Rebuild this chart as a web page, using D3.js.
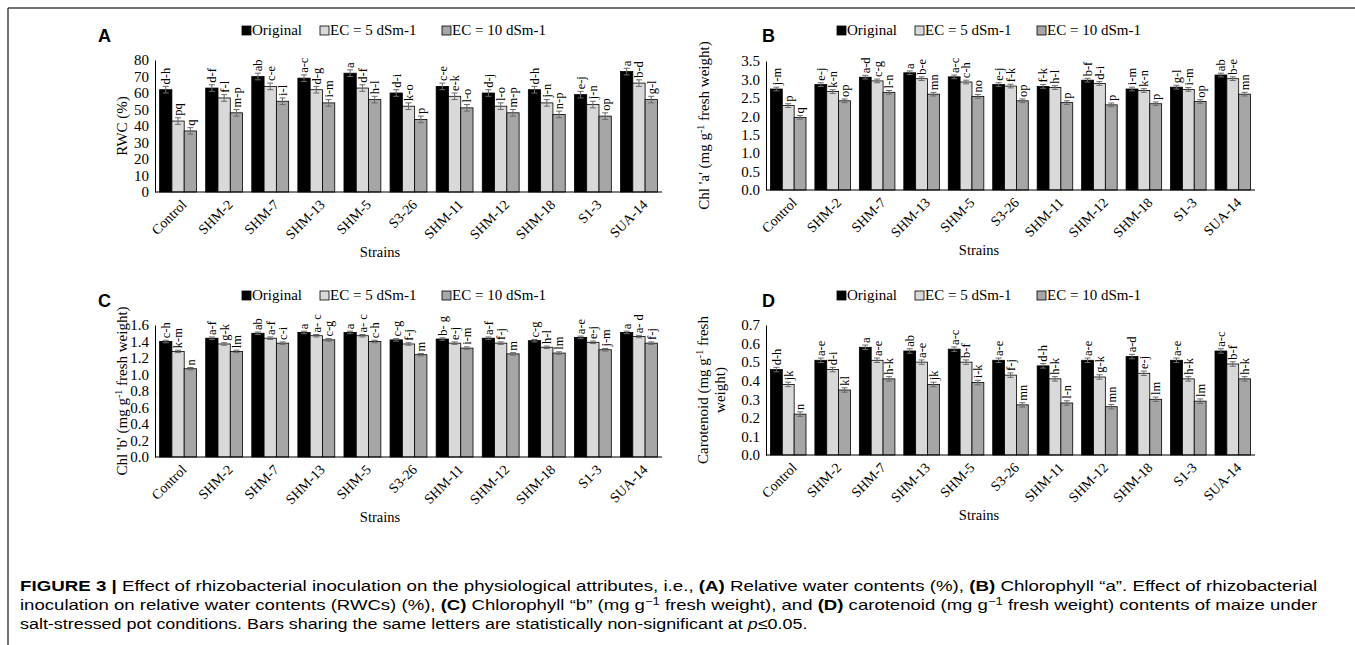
<!DOCTYPE html>
<html>
<head>
<meta charset="utf-8">
<script src="https://cdn.jsdelivr.net/npm/d3@7"></script>
<style>
  body { margin: 0; background: #fff; }
  text { font-family: "Liberation Serif", "Times New Roman", serif; fill: #000; }
  .sans { font-family: "Liberation Sans", Arial, sans-serif; }
</style>
</head>
<body>
<svg id="fig" width="1355" height="645"></svg>
<script>
// ---- data ----
const strains = ["Control", "SHM-2", "SHM-7", "SHM-13", "SHM-5", "S3-26", "SHM-11", "SHM-12", "SHM-18", "S1-3", "SUA-14"];
const seriesNames = ["Original", "EC = 5 dSm-1", "EC = 10 dSm-1"];
const seriesColors = ["#000000", "#d9d9d9", "#a6a6a6"];

// A: relative water content (%)
const rwcOriginal = [62, 63, 70, 69, 72, 60, 64, 60, 62, 59, 73];
const rwcEC5 = [43, 57, 64, 62, 63, 52, 58, 52, 54, 53, 66];
const rwcEC10 = [37, 48, 55, 54, 56, 44, 51, 48, 47, 46, 56];
const rwcLetters = [["d-h","pq","q"],["d-f","f-l","m-p"],["ab","c-e","i-l"],["a-c","d-g","i-m"],["a","d-f","h-l"],
  ["d-i","k-o","p"],["c-e","e-k","l-o"],["d-j","l-o","m-p"],["d-h","j-n","n-p"],["e-j","j-n","op"],["a","b-d","g-l"]];
const rwcErr = 2;

// B: chlorophyll a
const chlaOriginal = [2.74, 2.86, 3.06, 3.18, 3.07, 2.86, 2.81, 2.98, 2.74, 2.79, 3.12];
const chlaEC5 = [2.29, 2.67, 2.96, 3.02, 2.93, 2.82, 2.78, 2.89, 2.70, 2.73, 3.02];
const chlaEC10 = [1.97, 2.42, 2.65, 2.60, 2.54, 2.42, 2.37, 2.31, 2.34, 2.40, 2.60];
const chlaLetters = [["j-m","p","q"],["e-j","k-n","op"],["a-d","c-g","l-n"],["a","b-e","mn"],["a-c","c-h","no"],
  ["e-j","f-k","op"],["f-k","h-l","p"],["b-f","d-i","p"],["i-m","k-n","p"],["g-l","i-m","op"],["ab","b-e","mn"]];
const chlaErr = 0.05;

// C: chlorophyll b
const chlbOriginal = [1.40, 1.44, 1.50, 1.51, 1.51, 1.42, 1.43, 1.44, 1.41, 1.45, 1.51];
const chlbEC5 = [1.28, 1.37, 1.44, 1.47, 1.47, 1.37, 1.38, 1.38, 1.33, 1.39, 1.46];
const chlbEC10 = [1.07, 1.28, 1.38, 1.42, 1.40, 1.24, 1.32, 1.25, 1.26, 1.30, 1.38];
const chlbLetters = [["c-h","k-m","n"],["a-f","g-k","lm"],["ab","a-f","c-i"],["a","a- c","c-g"],["a","a- c","c-h"],
  ["c-g","f-j","m"],["b- g","e-j","i-m"],["a-f","f-j","m"],["c-g","h-l","lm"],["a-e","e-j","j-m"],["a","a- d","f-j"]];
const chlbErr = 0.015;

// D: carotenoid
const carOriginal = [0.46, 0.51, 0.58, 0.56, 0.57, 0.51, 0.48, 0.51, 0.53, 0.51, 0.56];
const carEC5 = [0.38, 0.46, 0.51, 0.50, 0.50, 0.43, 0.41, 0.42, 0.44, 0.41, 0.49];
const carEC10 = [0.22, 0.35, 0.41, 0.38, 0.39, 0.27, 0.28, 0.26, 0.30, 0.29, 0.41];
const carLetters = [["d-h","jk","n"],["a-e","d-i","kl"],["a","a-e","h-k"],["ab","a-e","jk"],["a-c","b-f","i-k"],
  ["a-e","f-j","mn"],["d-h","h-k","l-n"],["a-e","g-k","mn"],["a-d","e-j","lm"],["a-e","h-k","lm"],["a-c","b-f","h-k"]];
const carErr = 0.012;

const svg = d3.select("#fig");

// frame
svg.append("line").attr("x1", 8).attr("x2", 1355).attr("y1", 8).attr("y2", 8).attr("stroke", "#444").attr("stroke-width", 1.5);
svg.append("line").attr("x1", 8).attr("x2", 8).attr("y1", 8).attr("y2", 645).attr("stroke", "#444").attr("stroke-width", 1.5);

function drawPanel(p) {
  const g = svg.append("g");
  const series = [p.s1, p.s2, p.s3];

  const x = d3.scaleBand().domain(strains).range([p.left, p.right]).paddingInner(0.2).paddingOuter(0.1);
  const xs = d3.scaleBand().domain([0, 1, 2]).range([0, x.bandwidth()]);
  const y = d3.scaleLinear().domain([0, p.max]).range([p.bottom, p.top]);

  // panel letter
  g.append("text").attr("class", "sans").attr("x", p.letterX).attr("y", p.legendY + 7)
    .style("font-size", "18px").style("font-weight", "bold").text(p.letter);

  // legend
  const lg = g.append("g").attr("transform", `translate(${p.legendX},${p.legendY})`);
  const legendOffsets = [0, 78, 200];
  seriesNames.forEach((name, i) => {
    lg.append("rect").attr("x", legendOffsets[i]).attr("y", -9).attr("width", 9).attr("height", 9)
      .attr("fill", seriesColors[i]).attr("stroke", "#000").attr("stroke-width", 0.8);
    lg.append("text").attr("x", legendOffsets[i] + 10).attr("y", 0).style("font-size", "15px").text(name);
  });

  // y axis
  const ticks = d3.range(0, p.max + p.step / 2, p.step);
  const ya = g.append("g").attr("transform", `translate(${p.left},0)`)
    .call(d3.axisLeft(y).tickValues(ticks).tickSize(0).tickPadding(6).tickFormat(d3.format(p.fmt)));
  ya.select(".domain").attr("stroke", "#000").attr("stroke-width", 1);
  ya.selectAll("text").style("font-size", "15px").style("font-family", "'Liberation Serif', serif");

  // y title
  const tt = g.append("text").attr("transform", `translate(${p.titleX},${(p.top + p.bottom) / 2}) rotate(-90)`)
    .attr("text-anchor", "middle").style("font-size", "15px");
  p.title(tt);

  // bars
  strains.forEach((s, i) => {
    series.forEach((vals, k) => {
      const v = vals[i];
      const bx = x(s) + xs(k);
      const bw = xs.bandwidth();
      g.append("rect").attr("x", bx).attr("y", y(v)).attr("width", bw).attr("height", p.bottom - y(v))
        .attr("fill", seriesColors[k]).attr("stroke", "#000").attr("stroke-width", 0.8);
      const cx = bx + bw / 2;
      const e1 = y(v + p.err), e0 = y(v - p.err);
      const ec = "#6a6a6a";
      g.append("line").attr("x1", cx).attr("x2", cx).attr("y1", e1).attr("y2", e0).attr("stroke", ec);
      g.append("line").attr("x1", cx - 3).attr("x2", cx + 3).attr("y1", e1).attr("y2", e1).attr("stroke", ec);
      g.append("line").attr("x1", cx - 3).attr("x2", cx + 3).attr("y1", e0).attr("y2", e0).attr("stroke", ec);
      g.append("text").attr("transform", `translate(${cx},${e1 - 2}) rotate(-90)`)
        .attr("dy", "0.35em").style("font-size", "12.5px").text(p.letters[i][k]);
    });
  });

  // x axis
  g.append("line").attr("x1", p.left).attr("x2", p.right).attr("y1", p.bottom).attr("y2", p.bottom)
    .attr("stroke", "#000").attr("stroke-width", 1);
  strains.forEach(s => {
    const cx = x(s) + x.bandwidth() / 2;
    g.append("text").attr("transform", `translate(${cx + 6},${p.bottom + 10}) rotate(-45)`)
      .attr("text-anchor", "end").attr("dy", "0.35em").style("font-size", "14px").text(s);
  });
  g.append("text").attr("x", p.strainsX).attr("y", p.bottom + 65).attr("text-anchor", "middle")
    .style("font-size", "14.5px").text("Strains");
}

function gramTitle(before, after) {
  return t => {
    t.append("tspan").text(before + " (mg g");
    t.append("tspan").attr("dy", -5).style("font-size", "10px").text("-1");
    t.append("tspan").attr("dy", 5).text(after);
  };
}

drawPanel({
  letter: "A", letterX: 98, legendX: 242, legendY: 35,
  left: 155, right: 662, top: 60, bottom: 192, max: 80, step: 10, fmt: "d",
  titleX: 127, strainsX: 380,
  s1: rwcOriginal, s2: rwcEC5, s3: rwcEC10, letters: rwcLetters, err: rwcErr,
  title: t => t.text("RWC (%)")
});

drawPanel({
  letter: "B", letterX: 762, legendX: 837, legendY: 35,
  left: 766, right: 1255, top: 61, bottom: 190, max: 3.5, step: 0.5, fmt: ".1f",
  titleX: 709, strainsX: 979,
  s1: chlaOriginal, s2: chlaEC5, s3: chlaEC10, letters: chlaLetters, err: chlaErr,
  title: gramTitle("Chl 'a'", " fresh weight)")
});

drawPanel({
  letter: "C", letterX: 98, legendX: 242, legendY: 300,
  left: 155, right: 662, top: 325, bottom: 457, max: 1.6, step: 0.2, fmt: ".1f",
  titleX: 127, strainsX: 380,
  s1: chlbOriginal, s2: chlbEC5, s3: chlbEC10, letters: chlbLetters, err: chlbErr,
  title: gramTitle("Chl 'b'", " fresh weight)")
});

drawPanel({
  letter: "D", letterX: 762, legendX: 837, legendY: 300,
  left: 766, right: 1255, top: 325, bottom: 455, max: 0.7, step: 0.1, fmt: ".1f",
  titleX: 708, strainsX: 979,
  s1: carOriginal, s2: carEC5, s3: carEC10, letters: carLetters, err: carErr,
  title: t => {
    t.append("tspan").attr("x", 0).text("Carotenoid (mg g");
    t.append("tspan").attr("dy", -5).style("font-size", "10px").text("-1");
    t.append("tspan").attr("dy", 5).text(" fresh");
    t.append("tspan").attr("x", 0).attr("dy", 17).text("weight)");
  }
});

// caption: each line is stretched horizontally to the width it takes in the figure
const capLines = [
  [["FIGURE 3 |", "b"], [" Effect of rhizobacterial inoculation  on the physiological attributes, i.e., "], ["(A)", "b"],
   [" Relative water contents (%), "], ["(B)", "b"], [" Chlorophyll \u201ca\u201d. Effect of rhizobacterial"]],
  [["inoculation on relative water contents (RWCs) (%), "], ["(C)", "b"], [" Chlorophyll \u201cb\u201d (mg g"], ["\u22121", "sup"],
   [" fresh weight), and "], ["(D)", "b"], [" carotenoid (mg g"], ["\u22121", "sup"], [" fresh weight) contents of maize under"]],
  [["salt-stressed pot conditions. Bars sharing the same letters are statistically non-significant at "], ["p", "i"], ["\u22640.05."]]
];
const capY = [591, 610, 629];
const capWidth = [1298, 1298, 788];
capLines.forEach((parts, li) => {
  const g = svg.append("g").attr("transform", `translate(20,${capY[li]})`);
  const t = g.append("text").attr("class", "sans").attr("x", 0).attr("y", 0).style("font-size", "15px");
  let afterSup = false;
  parts.forEach(([txt, st]) => {
    const sp = t.append("tspan").text(txt);
    if (afterSup) sp.attr("dy", 5);
    afterSup = false;
    if (st === "b") sp.style("font-weight", "bold");
    if (st === "i") sp.style("font-style", "italic");
    if (st === "sup") { sp.attr("dy", -5).style("font-size", "10.5px"); afterSup = true; }
  });
  const w = t.node().getComputedTextLength();
  g.attr("transform", `translate(20,${capY[li]}) scale(${capWidth[li] / w},1)`);
});
</script>
</body>
</html>
